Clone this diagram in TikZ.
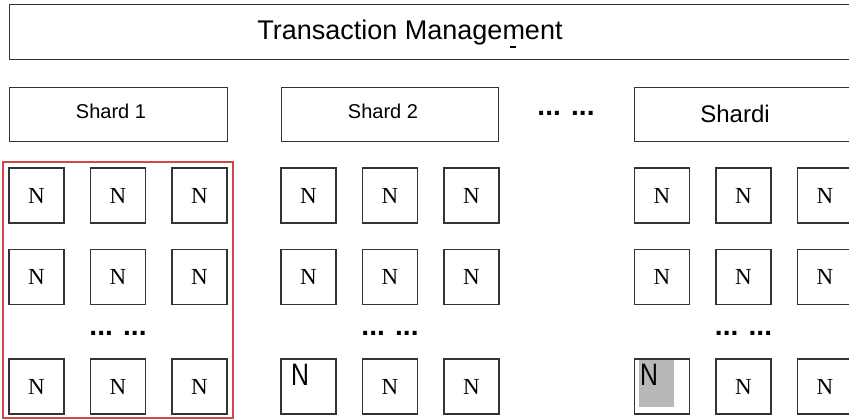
\documentclass[tikz,border=0pt]{standalone}
\usepackage{fontspec}
\setmainfont{Liberation Serif}
\newfontfamily\sansf{Liberation Sans}
\definecolor{edge}{HTML}{333333}
\definecolor{redframe}{HTML}{D04848}
\definecolor{hl}{HTML}{B8B8B8}
\begin{document}
\begin{tikzpicture}[x=1pt,y=-1pt,
  box/.style={draw=edge, line width=1.3pt, inner sep=0pt},
  nbox/.style={box, minimum width=55pt, minimum height=55pt, font=\fontsize{23}{23}\selectfont},
  shardbox/.style={box, minimum height=54pt, anchor=north west},
  shardtext/.style={font=\sansf\fontsize{20}{20}\selectfont, inner sep=0pt},
  dotstext/.style={font=\sansf\bfseries\fontsize{28}{28}\selectfont, inner sep=0pt},
  bigN/.style={font=\sansf\fontsize{31}{31}\selectfont, inner sep=0pt, xscale=0.8}]
\useasboundingbox (0,0) rectangle (849,419);
% title
\node[box, minimum width=870pt, minimum height=55pt, anchor=north west] (tm) at (9,4) {};
\node[font=\sansf\fontsize{27}{27}\selectfont, inner sep=0pt] (tmt) at (410,33) {Transaction Management};
\fill[black] (510,46) rectangle (516,48);
% shard boxes
\node[shardbox, minimum width=218pt] (s1) at (9,87) {};
\node[shardbox, minimum width=217pt] (s2) at (281,87) {};
\node[shardbox, minimum width=240pt] (si) at (634,87) {};
\node[shardtext] (s1t) at (111,111) {Shard 1};
\node[shardtext] (s2t) at (383,111) {Shard 2};
\node[shardtext, font=\sansf\fontsize{24}{24}\selectfont] (sit) at (735,114) {Shardi};
\node[dotstext] (sdots) at (566,113) {... ...};
% red frame
\draw[draw=redframe, line width=1.1pt] (3,162) rectangle (233,418);
% node grids
\foreach \g/\xa/\xb/\xc in {a/36.5/118/199.5, b/308.5/390/471.5, c/662/743.5/825}{
  \foreach \r/\y in {1/195.5, 2/277}{
    \node[nbox] (\g\r1) at (\xa,\y) {N};
    \node[nbox] (\g\r2) at (\xb,\y) {N};
    \node[nbox] (\g\r3) at (\xc,\y) {N};
  }
  \node[dotstext] (\g dots) at (\xb,333) {... ...};
  \node[nbox] (\g32) at (\xb,386.5) {N};
  \node[nbox] (\g33) at (\xc,386.5) {N};
}
\node[nbox] (a31) at (36.5,386.5) {N};
\node[nbox] (b31) at (308.5,386.5) {};
\node[nbox] (c31) at (662,386.5) {};
\node[bigN, anchor=north west] (b31t) at (291,364) {N};
\fill[hl] (639,360) rectangle (674,407);
\node[bigN, anchor=north west] (c31t) at (640,364) {N};
\end{tikzpicture}
\end{document}
